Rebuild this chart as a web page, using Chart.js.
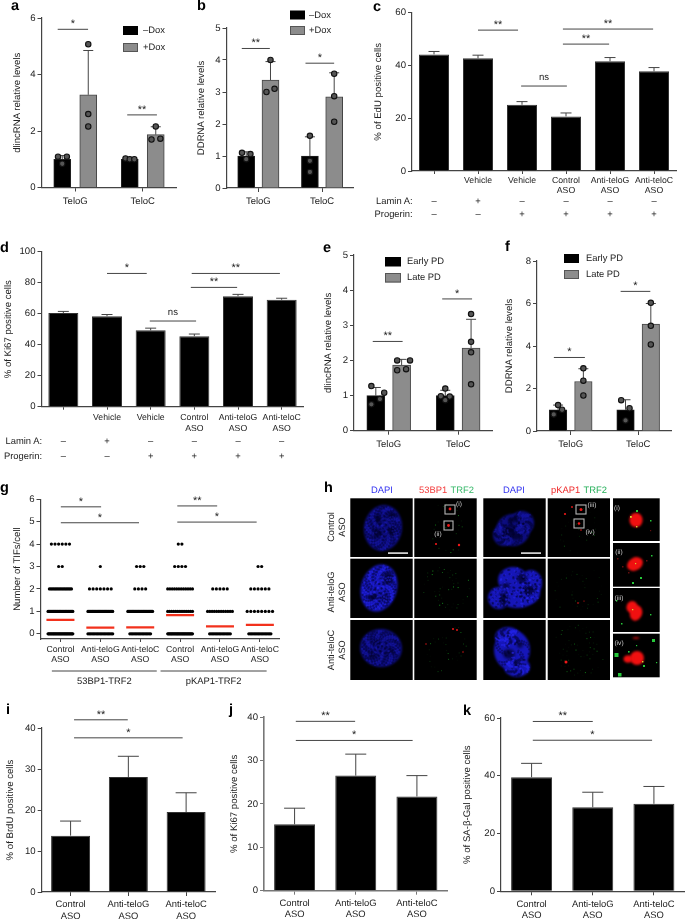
<!DOCTYPE html>
<html><head><meta charset="utf-8">
<style>
html,body{margin:0;padding:0;background:#fff;width:685px;height:919px;overflow:hidden;text-rendering:geometricPrecision}
#stage{position:relative;width:685px;height:919px}
canvas{position:absolute;filter:blur(.35px)}
.L{position:absolute;font:bold 14.5px "Liberation Sans";color:#000;line-height:14px}
</style>
<script src="https://cdn.jsdelivr.net/npm/chart.js@4/dist/chart.umd.min.js"></script>
</head><body><div id="stage"></div>
<script>
// ---------- values ----------
const telo = ['TeloG','TeloC'];
const conditions = ['',"Vehicle","Vehicle",['Control','ASO'],['Anti-teloG','ASO'],['Anti-teloC','ASO']];
const asoGroups = [['Control','ASO'],['Anti-teloG','ASO'],['Anti-teloC','ASO']];
const tifGroups = [['Control','ASO'],['Anti-teloG','ASO'],['Anti-teloC','ASO'],['Control','ASO'],['Anti-teloG','ASO'],['Anti-teloC','ASO']];
const laminA  = ['–','+','–','–','–','–'];
const progerin= ['–','–','+','+','+','+'];

const aTicks=[0,2,4,6], bTicks=[0,1,2,3,4,5], cTicks=[0,20,40,60], dTicks=[0,20,40,60,80,100];
const eTicks=[0,1,2,3,4,5], fTicks=[0,2,4,6,8], gTicks=[0,1,2,3,4,5,6];
const iTicks=[0,10,20,30,40], jTicks=[0,10,20,30,40], kTicks=[0,20,40,60];

const aMinus=[1.0,1.0],  aPlus=[3.28,1.87], aMinusErr=[1.13,1.05], aPlusErr=[4.85,2.15];
const aDots=[[1.09,1.09,0.84],[1.03,1.0,1.0],[5.07,2.6,2.16],[2.16,1.7,1.73]];
const bMinus=[1.0,1.0],  bPlus=[3.37,2.85], bMinusErr=[1.13,1.6],  bPlusErr=[3.95,3.6];
const bDots=[[1.1,1.06,0.9],[1.63,0.85,0.5],[4.0,3.0,3.1],[3.57,2.87,2.07]];
const eEarly=[1.0,1.0],  eLate=[1.87,2.35], eEarlyErr=[1.23,1.15], eLateErr=[2.03,3.17];
const eDots=[[1.27,0.75,0.9,1.08],[1.2,0.98,0.97,0.87],[2.0,2.0,1.72,1.75],[3.32,2.53,2.23,1.32]];
const fEarly=[1.0,1.0],  fLate=[2.33,5.03], fEarlyErr=[1.22,1.47], fLateErr=[2.93,6.0];
const fDots=[[1.22,1.0,0.78],[1.45,1.07,0.5],[2.95,2.37,1.67],[6.03,4.95,4.07]];

const cVals=[44.2,42.7,25.1,20.7,41.6,37.8], cErr=[45.3,43.9,26.3,22.0,43.0,39.2];
const dVals=[60.4,58.4,49.3,45.5,71.3,69.0], dErr=[61.5,59.5,50.7,46.9,72.5,70.0];
const iVals=[13.75,28.05,19.5], iErr=[17.3,33.1,24.2];
const jVals=[15.3,26.5,21.7],   jErr=[19.0,31.45,26.5];
const kVals=[39.5,29.1,30.3],   kErr=[44.3,34.3,36.3];

// TIF scatter: number of cells at 0,1,2,3,4 TIFs per group, and group means
const tifCounts=[[30,30,17,2,6],[19,30,7,1,0],[16,30,4,3,0],[30,14,12,4,2],[16,12,5,0,0],[17,8,6,2,0]];
const tifMeans=[0.62,0.28,0.29,0.83,0.33,0.4];

// significance bars: from, to (category units), height (axis units), label
const aSig=[[-.26,.19,5.6,'*'],[.77,1.21,2.57,'**']];
const bSig=[[-.26,.18,4.36,'**'],[.74,1.19,3.9,'*']];
const cSig=[[1,1.91,53.4,'**'],[1.98,3.02,32.2,'ns'],[2.93,4.98,53.8,'**'],[2.93,3.98,48.1,'**']];
const dSig=[[1,1.91,86,'*'],[1.98,3.04,55.3,'ns'],[2.94,4.96,86,'**'],[2.92,3.98,77,'**']];
const eSig=[[-.23,.2,2.54,'**'],[.77,1.2,3.75,'*']];
const fSig=[[-.25,.21,3.46,'*'],[.74,1.18,6.57,'*']];
const gSig=[[.01,1.02,5.66,'*'],[.01,1.97,4.95,'*'],[2.93,3.93,5.7,'**'],[2.93,4.92,4.98,'*']];
const iSig=[[.06,.99,42,'**'],[.06,1.94,37.6,'*']];
const jSig=[[.02,.99,39,'**'],[.02,1.93,34.6,'*']];
const kSig=[[.02,1,58.8,'**'],[.02,1.97,52.3,'*']];

// ---------- layout / style ----------
const FONT='"Liberation Sans"', INK='#222', AXIS='#444', GREY='#8c8c8c';
Chart.defaults.font.family=FONT; Chart.defaults.color=INK;
const stage=document.getElementById('stage');

// side-to-side placement of dots, as a fraction of bar width (not data)
const jit={
 a:[[-.25,.27,0],[-.25,0,.27],[0,0,0],[0,-.25,.27]],
 b:[[-.25,.25,0],[0,0,0],[0,-.24,.24],[0,0,0]],
 e:[[-.25,-.25,.23,.47],[0,-.25,.25,0],[-.25,.47,-.25,.25],[0,0,0,0]],
 f:[[0,.23,-.25],[-.25,.23,0],[0,0,0],[0,0,0]]
};

const extras={id:'extras',
 beforeDraw(ch){ch.ctx.textRendering='geometricPrecision';ch.ctx.fontKerning='normal';},
 beforeDatasetsDraw(ch,_,o){
  const {xd,y}=ch.scales,c=ch.ctx;
  (o.errors||[]).forEach(e=>{
    c.save();c.strokeStyle=o.errColor||'#444';c.lineWidth=o.errWidth||1;
    e.tops.forEach((t,i)=>{
      const px=xd.getPixelForValue(i+e.off),a=y.getPixelForValue(e.base[i]),b=y.getPixelForValue(t);
      c.beginPath();c.moveTo(px,a);c.lineTo(px,b);c.moveTo(px-o.cap/2,b);c.lineTo(px+o.cap/2,b);c.stroke();
    });c.restore();
  });
 },
 afterDatasetsDraw(ch,_,o){
  const {xd,y}=ch.scales,c=ch.ctx,bx=o.box;
  c.save();
  (o.sig||[]).forEach(([a,b,v,t])=>{
    const p=y.getPixelForValue(v),x1=xd.getPixelForValue(a),x2=xd.getPixelForValue(b);
    c.strokeStyle='#444';c.lineWidth=1;c.beginPath();c.moveTo(x1,p);c.lineTo(x2,p);c.stroke();
    c.fillStyle=INK;c.textAlign='center';c.textBaseline='alphabetic';
    if(t==='ns'){c.font='9.6px '+FONT;c.fillText(t,(x1+x2)/2,p-6);}
    else{c.font='11px '+FONT;c.fillText(t,(x1+x2)/2,p-2);}
  });
  (o.legend||[]).forEach(l=>{
    const X=l.x-bx[0],Y=l.y-bx[1];
    c.fillStyle=l.fill;c.fillRect(X,Y,l.w,l.h);
    if(l.fill!=='#000'){c.strokeStyle='#555';c.lineWidth=1;c.strokeRect(X+.5,Y+.5,l.w-1,l.h-1);}
    c.fillStyle=INK;c.font='9.4px '+FONT;c.textAlign='left';c.textBaseline='middle';
    c.fillText(l.label,l.tx-bx[0],Y+l.h/2);
  });
  (o.rows||[]).forEach(r=>{
    c.fillStyle=INK;c.font='9.4px '+FONT;c.textBaseline='middle';c.textAlign='right';
    c.fillText(r.label,r.right-bx[0],r.y-bx[1]);
    c.textAlign='center';
    r.marks.forEach((m,i)=>c.fillText(m,xd.getPixelForValue(i),r.y-bx[1]));
  });
  (o.under||[]).forEach(u=>{
    c.strokeStyle='#444';c.lineWidth=1;c.beginPath();
    c.moveTo(xd.getPixelForValue(u.a),u.y-bx[1]);c.lineTo(xd.getPixelForValue(u.b),u.y-bx[1]);c.stroke();
    c.fillStyle=INK;c.font='9.4px '+FONT;c.textAlign='center';c.textBaseline='middle';
    c.fillText(u.label,xd.getPixelForValue((u.a+u.b)/2),u.y+10-bx[1]);
  });
  c.restore();
 }};
Chart.register(extras);

function panel(p){
  const [l,t,r,b]=p.plot, tf=p.titleSize||9.6, lh=tf*1.2;
  const cx=Math.max(0,Math.floor(p.titleX-lh/2-.5)), cy=Math.max(0,Math.floor(t-p.above)), cr=Math.min(685,Math.ceil(r+(p.right||4))), cb=Math.ceil(b+p.below);
  const cv=document.createElement('canvas');
  cv.width=cr-cx;cv.height=cb-cy;cv.style.left=cx+'px';cv.style.top=cy+'px';
  cv.style.width=(cr-cx)+'px';cv.style.height=(cb-cy)+'px';
  stage.appendChild(cv);
  const n=p.labels.length;
  new Chart(cv,{type:p.type||'bar',data:{labels:p.labels,datasets:p.datasets},options:{
    responsive:false,animation:false,devicePixelRatio:1,
    layout:{padding:{top:t-cy,right:cr-r,bottom:0,left:0}},
    plugins:{legend:{display:false},tooltip:{enabled:false},
      extras:Object.assign({box:[cx,cy]},p.extras)},
    scales:{
      x:{type:'category',labels:p.labels,offset:true,position:'bottom',
        grid:{offset:false,drawOnChartArea:false,drawTicks:true,tickLength:p.tick||4,tickColor:p.axis||AXIS,tickWidth:1},
        border:{color:p.axis||AXIS,width:p.axisW||1.2},
        ticks:{autoSkip:false,maxRotation:0,minRotation:0,padding:p.xPad||2,color:INK,font:{size:p.xFont||8.7,family:FONT}},
        afterFit(s){s.height=cb-b;}},
      xd:{type:'linear',display:false,offset:false,min:-.5,max:n-.5,
        afterBuildTicks(s){s.ticks=Array.from({length:n},(_,i)=>({value:i}));}},
      y:{type:'linear',min:p.yMin===undefined?p.yTicks[0]:p.yMin,max:p.yTicks[p.yTicks.length-1],
        grid:{drawOnChartArea:false,drawTicks:true,tickLength:4,tickColor:p.axis||AXIS,tickWidth:1},
        border:{color:p.axis||AXIS,width:p.axisW||1.2},
        title:{display:true,text:p.title,color:INK,font:{size:tf,family:FONT},padding:{top:p.titleX-cx-lh/2,bottom:0}},
        ticks:{padding:2,color:INK,font:{size:p.yFont||9.6,family:FONT},callback:v=>v},
        afterBuildTicks(s){s.ticks=p.yTicks.map(v=>({value:v}));},
        afterFit(s){s.width=l-cx;}}
    }}});
}

function grouped(name1,v1,name2,v2,dots,jits,barW,slotW,catW){
  const d=slotW/2/catW, frac=barW/catW;
  const base={grouped:false,barPercentage:1,categoryPercentage:1,maxBarThickness:barW,order:2,xAxisID:'xd',yAxisID:'y'};
  const ds=[
   Object.assign({label:name1,data:v1.map((v,i)=>({x:i-d,y:v})),backgroundColor:'#000',borderColor:'#222',borderWidth:1},base),
   Object.assign({label:name2,data:v2.map((v,i)=>({x:i+d,y:v})),backgroundColor:GREY,borderColor:'#444',borderWidth:1},base)];
  const pts=[];
  dots.forEach((arr,k)=>{
    const g=k%2, sign=k<2?-1:1;
    arr.forEach((v,i)=>pts.push({x:g+sign*d+jits[k][i]*frac,y:v}));
  });
  ds.push({type:'scatter',label:'replicates',data:pts,xAxisID:'xd',yAxisID:'y',order:0,clip:false,
    pointRadius:2.7,pointBackgroundColor:'#555',pointBorderColor:'#111',pointBorderWidth:1.1,showLine:false});
  return {ds,d};
}
function single(label,vals,barW,catW){
  return [{label,data:vals,backgroundColor:'#000',borderColor:'#333',borderWidth:1,categoryPercentage:1,barPercentage:barW/catW}];
}
function groupedErr(v1,e1,v2,e2,d){return [{off:-d,base:v1,tops:e1},{off:d,base:v2,tops:e2}];}
function lg(x,tx,y1,y2,w,h,l1,l2){return [{x,tx,y:y1,w,h,fill:'#000',label:l1},{x,tx,y:y2,w,h,fill:GREY,label:l2}];}

// a
{const g=grouped('–Dox',aMinus,'+Dox',aPlus,aDots,jit.a,17,26,67.5);
panel({plot:[41.5,18,176.5,187.5],titleX:17,title:'dlincRNA relative levels',labels:telo,yTicks:aTicks,datasets:g.ds,above:16,below:24,xFont:9.5,xPad:4,right:20,
 extras:{cap:10,errors:groupedErr(aMinus,aMinusErr,aPlus,aPlusErr,g.d),sig:aSig,legend:lg(123,143,26,43,15,9,'–Dox','+Dox')}});}
// b
{const g=grouped('–Dox',bMinus,'+Dox',bPlus,bDots,jit.b,17,24.5,64.25);
panel({plot:[226.5,28,355,188],titleX:201,title:'DDRNA relative levels',labels:telo,yTicks:bTicks,datasets:g.ds,above:26,below:24,xFont:9.5,xPad:4,
 extras:{cap:10,errors:groupedErr(bMinus,bMinusErr,bPlus,bPlusErr,g.d),sig:bSig,legend:lg(290,309,10.5,26,15,9,'–Dox','+Dox')}});}
// c
panel({plot:[412,12.7,676,171],titleX:378,title:'% of EdU positive cells',labels:conditions,yTicks:cTicks,datasets:single('EdU',cVals,30,44),above:12,below:50,xPad:1,tick:3,
 extras:{cap:11,errors:[{off:0,base:cVals,tops:cErr}],sig:cSig,rows:[{label:'Lamin A:',right:412.6,y:201,marks:laminA},{label:'Progerin:',right:412.6,y:214,marks:progerin}]}});
// d
panel({plot:[41.5,250,303.5,406.7],titleX:8,title:'% of Ki67 positive cells',labels:conditions,yTicks:dTicks,datasets:single('Ki67',dVals,30,43.67),above:6,below:56,xPad:3,tick:3,
 extras:{cap:11,errors:[{off:0,base:dVals,tops:dErr}],sig:dSig,rows:[{label:'Lamin A:',right:42,y:441,marks:laminA},{label:'Progerin:',right:42,y:456,marks:progerin}]}});
// e
{const g=grouped('Early PD',eEarly,'Late PD',eLate,eDots,jit.e,18,26,70);
panel({plot:[354,255,494,430.7],titleX:328,title:'dlincRNA relative levels',labels:telo,yTicks:eTicks,datasets:g.ds,above:8,below:24,xFont:9.5,xPad:4,
 extras:{cap:10,errors:groupedErr(eEarly,eEarlyErr,eLate,eLateErr,g.d),sig:eSig,legend:lg(385,407,257,273,16,9.5,'Early PD','Late PD')}});}
// f
{const g=grouped('Early PD',fEarly,'Late PD',fLate,fDots,jit.f,17.5,25.5,68);
panel({plot:[537,261,673,431],titleX:509,title:'DDRNA relative levels',labels:telo,yTicks:fTicks,datasets:g.ds,above:12,below:24,xFont:9.5,xPad:4,
 extras:{cap:10,errors:groupedErr(fEarly,fEarlyErr,fLate,fLateErr,g.d),sig:fSig,legend:lg(564,586,254,270,15,9,'Early PD','Late PD')}});}
// g
{const pts=[];
 tifCounts.forEach((row,g)=>row.forEach((n,v)=>{
   if(!n)return;
   const maxW=26, px=n<=8?3.8:(n<=14?maxW/(n-1):Math.min(1.45,maxW/(n-1)));
   for(let k=0;k<n;k++)pts.push({x:g+(k-(n-1)/2)*px/41.83,y:v});
 }));
 const ds=[{type:'scatter',label:'cells',data:pts,xAxisID:'xd',yAxisID:'y',clip:false,pointRadius:1.6,pointBackgroundColor:'#000',pointBorderWidth:0,showLine:false,order:1},
  {type:'scatter',label:'mean',data:tifMeans.map((m,i)=>({x:i,y:m})),xAxisID:'xd',yAxisID:'y',pointStyle:'line',pointRadius:14,pointBorderColor:'#f2311c',pointBorderWidth:2.2,showLine:false,order:0}];
 panel({type:'scatter',plot:[40.5,495,291.5,639],titleX:17,title:'Number of TIFs/cell',labels:tifGroups,yTicks:gTicks,yMin:-.23,datasets:ds,above:12,below:52,xPad:2,tick:3,
 extras:{sig:gSig,under:[{a:-.215,b:2.415,y:671,label:'53BP1-TRF2'},{a:2.51,b:5.17,y:671,label:'pKAP1-TRF2'}]}});}
// i j k
panel({plot:[41.7,728,215,892],titleX:10,title:'% of BrdU positive cells',labels:asoGroups,yTicks:iTicks,datasets:single('BrdU',iVals,39,57.8),above:24,below:27,xFont:9.4,xPad:3,
 extras:{cap:21,errors:[{off:0,base:iVals,tops:iErr}],sig:iSig}});
panel({plot:[264,717,447.5,890.7],titleX:234,title:'% of Ki67 positive cells',labels:asoGroups,yTicks:jTicks,datasets:single('Ki67',jVals,41,61.2),above:12,below:28,xFont:9.4,xPad:3,axis:'#777',axisW:1.6,
 extras:{cap:21,errors:[{off:0,base:jVals,tops:jErr}],sig:jSig}});
panel({plot:[501,718,684.5,891.3],titleX:467,title:'% of SA-β-Gal positive cells',labels:asoGroups,yTicks:kTicks,datasets:single('SA-beta-Gal',kVals,41,61.2),above:12,below:27.5,xFont:9.4,xPad:3,right:0,
 extras:{cap:21,errors:[{off:0,base:kVals,tops:kErr}],sig:kSig}});

// panel letters
[['a',11,-1],['b',197,-1],['c',373,0],['d',0,241],['e',323,241],['f',505,240],['g',0,481],['h',324,481],['i',6,703],['j',229,703],['k',463,704]].forEach(([t,x,y])=>{
  const d=document.createElement('div');d.className='L';d.textContent=t;d.style.left=x+'px';d.style.top=y+'px';stage.appendChild(d);
});

// ---------- panel h: microscopy images (picture, not data) ----------
(function(){
 const cv=document.createElement('canvas');cv.width=365;cv.height=209;cv.style.left='320px';cv.style.top='482px';cv.style.width='365px';cv.style.height='209px';stage.appendChild(cv);
 const c=cv.getContext('2d');c.textRendering='geometricPrecision';c.translate(-320,-482);
 const frac=v=>v-Math.floor(v);
 const cols=[[350.3,412.7],[414.3,476.7],[483.3,545.7],[547.7,610]],rows=[[498.3,557],[558.7,618],[620,680]];
 const rect=(x0,y0,x1,y1)=>{c.fillStyle='#000';c.fillRect(x0,y0,x1-x0,y1-y0);};
 function nucleus(x0,y0,x1,y1,lobes,holes,col,seed,flecks){
  c.save();c.beginPath();c.rect(x0,y0,x1-x0,y1-y0);c.clip();
  c.filter='blur(1.1px)';c.fillStyle=col;
  lobes.forEach(([x,y,a,b,r])=>{c.beginPath();c.ellipse(x,y,a,b,r||0,0,7);c.fill();});
  c.filter='blur(1.6px)';c.fillStyle='rgba(0,0,30,.72)';
  holes.forEach(([x,y,a,b])=>{c.beginPath();c.ellipse(x,y,a,b,0,0,7);c.fill();});
  c.filter='blur(.7px)';
  for(let k=1;k<240;k++){
    const u=frac(k*.6180339+seed),v=frac(k*.7548777+seed*1.7),w=frac(k*.5698403);
    const [lx,ly,la,lb,lr]=lobes[k%lobes.length];
    const ang=u*6.283,rad=Math.sqrt(v)*.95,ca=Math.cos(lr||0),sa=Math.sin(lr||0);
    const ex=la*rad*Math.cos(ang),ey=lb*rad*Math.sin(ang);
    c.fillStyle=w<.62?'rgba(0,0,40,.42)':flecks;
    c.beginPath();c.arc(lx+ex*ca-ey*sa,ly+ex*sa+ey*ca,1.15,0,7);c.fill();
  }
  c.restore();
 }
 function specks(x0,y0,x1,y1,cx,cy,R,n,seed,gain){
  c.save();c.beginPath();c.rect(x0,y0,x1-x0,y1-y0);c.clip();
  for(let k=1;k<=n;k++){
    const u=frac(k*.6180339+seed),v=frac(k*.7548777+seed*1.3),w=frac(k*.5698403+seed);
    const a=u*6.283,r=Math.sqrt(v)*R;
    c.fillStyle=`rgba(30,${Math.round(90+w*120)},40,${(.12+w*w*.6)*gain})`;
    c.fillRect(cx+r*Math.cos(a),cy+r*Math.sin(a)*1.05,1,1);
  }
  c.restore();
 }
 function reds(list){list.forEach(([x,y,r])=>{c.save();c.filter='blur(.5px)';c.fillStyle='#f01818';c.beginPath();c.arc(x,y,r,0,7);c.fill();c.restore();});}
 rows.forEach(R=>cols.forEach(C=>rect(C[0],R[0],C[1],R[1])));
 const dim='#0d0d80',bright='#1616b8',fd='rgba(30,30,190,.35)',fb='rgba(40,40,245,.45)';
 nucleus(350.3,498.3,412.7,557,[[383,528,19,23,.15]],[[378,519,4,4],[392,516,4,3],[377,533,5,4],[392,531,4,5]],dim,.11,fd);
 nucleus(350.3,558.7,412.7,618,[[379,588,18,24,.28]],[[388,578,5,6],[373,597,5,4],[385,598,3,4]],bright,.27,fb);
 nucleus(350.3,620,412.7,680,[[381,648,21,19,.1]],[[376,642,3,3],[390,652,3,3],[372,655,4,3]],dim,.43,fd);
 nucleus(483.3,498.3,545.7,557,[[513,530,17,16,0],[522,523,12,12,0],[504,535,11,11,0]],[[508,531,6,5],[516,536,6,4],[512,520,4,3]],dim,.59,fd);
 nucleus(483.3,558.7,545.7,618,[[513,580,15,13,0],[531,583,11,13,0],[499,598,11,11,0],[517,598,18,10,0],[528,593,12,11,0]],[[504,600,4,8],[529,590,6,5],[522,578,5,5],[506,586,4,3]],bright,.71,fb);
 nucleus(483.3,620,545.7,680,[[512,650,18,20,0],[517,667,13,10,0],[508,637,13,10,0]],[[509,654,6,5],[520,645,3,3],[518,664,3,3]],bright,.83,fb);
 specks(414.3,498.3,476.7,557,446,528,24,26,.13,.8);
 specks(414.3,558.7,476.7,618,446,588,24,46,.37,1.1);
 specks(414.3,620,476.7,680,446,648,24,32,.51,.8);
 specks(547.7,498.3,610,557,578,530,23,26,.19,.7);
 specks(547.7,558.7,610,618,578,590,25,36,.61,.6);
 specks(547.7,620,610,680,578,650,26,60,.77,.8);
 reds([[450,509,1.4],[448.5,525.5,1.4],[436,544,1.1],[459,545,1.2],[581,509.5,1.5],[579,523.5,1.3],[565,514,1.1],[572,507,.9],[581,530,.8],
       [453,629,1],[457,630,.9],[426,644,.7],[463,652,.7],[578,603,.8],[584,601,.6],[566,662,1.5]]);
 c.strokeStyle='#b5b5b5';c.lineWidth=1.1;
 [[445,505,10,9],[444,521,9,9],[576,505,10,9],[574,519,10,9]].forEach(b=>c.strokeRect(...b));
 c.fillStyle='#e4e4e4';c.fillRect(388,552.3,20,1.6);c.fillRect(521,552.3,20,1.6);
 const ix=[613,659.7],iy=[[498.3,541],[543,586.7],[588,632],[633.7,677.3]];
 iy.forEach(R=>rect(ix[0],R[0],ix[1],R[1]));
 const blob=(x,y,a,b,r)=>{c.save();c.filter='blur(.9px)';c.fillStyle='#f01010';c.beginPath();c.ellipse(x,y,a,b,r||0,0,7);c.fill();c.restore();};
 const sp=(col,l)=>{c.fillStyle=col;l.forEach(([x,y,s])=>c.fillRect(x,y,s,s));};
 blob(636,520,6.6,7.3);blob(635,564,8.4,6.4,-.5);blob(632,607,5.5,6,.3);blob(636,613,6.2,7.8,.3);blob(637,658,7,7);blob(628,659,4.5,3.8);blob(636,638,3.5,.8);
 sp('#d8d030',[[630,516,1.8],[636,526,1.4],[635,563,1.2],[632,609,1.3],[642,661,1.4]]);
 sp('#26c83a',[[636,510,2],[650,520,1.5],[651,555,1.5],[640,577,2],[632,582,2],[616,600,1.4],[650,614,1.4],[621,623,1.5],[652,639,3],[614.5,653,4],[618,673,3.5],[628,651,1.6],[643,665,2],[636,645,1.2],[656,662,1.2]]);
 sp('rgba(140,20,20,.7)',[[617,558,1.5],[622,566,1.5],[628,572,1.5],[646,560,1.5],[650,530,1.2]]);
 const t=(s,x,y,col,size,al)=>{c.fillStyle=col;c.font=(size||9.4)+'px '+FONT;c.textAlign=al||'center';c.textBaseline='middle';c.fillText(s,x,y);};
 t('DAPI',382,490,'#3232f0');t('DAPI',514,490,'#3232f0');
 t('53BP1',419,490,'#f33b3b',9.4,'left');t('TRF2',474,490,'#36b869',9.4,'right');
 t('pKAP1',551,490,'#ef2a2a',9.4,'left');t('TRF2',607,490,'#26b05a',9.4,'right');
 t('(i)',459,504,'#ccc',6.6);t('(ii)',438,534,'#ccc',6.6);t('(iii)',592,505,'#ccc',6.6);t('(iv)',590,532,'#ccc',6.6);
 t('(i)',617,508,'#ccc',6.6);t('(ii)',619,552,'#ccc',6.6);t('(iii)',619,598,'#ccc',6.6);t('(iv)',619,643,'#ccc',6.6);
 [['Control',527],['Anti-teloG',592],['Anti-teloC',650]].forEach(([s,y])=>{
  c.save();c.translate(331,y);c.rotate(-Math.PI/2);t(s,0,0,INK,9.2);c.restore();
  c.save();c.translate(342,y);c.rotate(-Math.PI/2);t('ASO',0,0,INK,9.2);c.restore();
 });
})();
</script></body></html>
